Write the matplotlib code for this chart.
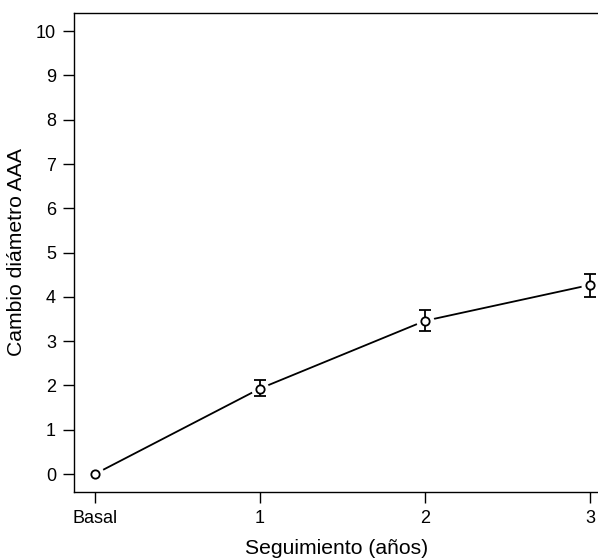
import matplotlib
matplotlib.use("Agg")
import matplotlib.pyplot as plt

plt.rcParams["font.family"] = ["Liberation Sans", "DejaVu Sans"]

x_labels = ["Basal", "1", "2", "3"]
x_pos = [0, 1, 2, 3]
change = [0.0, 1.93, 3.46, 4.27]
err_lo = [0.0, 0.17, 0.23, 0.27]
err_hi = [0.0, 0.20, 0.24, 0.25]
y_ticks = list(range(0, 11))

fig = plt.figure(figsize=(5.98, 5.6), dpi=100)
ax = fig.add_axes([74 / 598, 1 - 492 / 560, (600 - 74) / 598, (492 - 13) / 560])

# line with gaps around the markers (R type="b" look)
ax.plot(x_pos, change, color="black", lw=1.3, zorder=1)
ax.plot(x_pos, change, ls="none", marker="o", ms=13, mfc="white", mec="none", zorder=2)
ax.errorbar(x_pos[1:], change[1:], yerr=[err_lo[1:], err_hi[1:]], fmt="none",
            ecolor="black", elinewidth=1.3, capsize=4.5, capthick=1.3, zorder=3)
ax.plot(x_pos, change, ls="none", marker="o", ms=6, mfc="white", mec="black", mew=1.3, zorder=4)

ax.set_xlim(-0.127, 3.06)
ax.set_ylim(-0.406, 10.41)
ax.set_xticks(x_pos)
ax.set_xticklabels(x_labels)
ax.set_yticks(y_ticks)
ax.tick_params(axis="both", direction="out", length=8, width=1, labelsize=13, pad=5)
ax.spines["right"].set_visible(False)
for s in ["left", "bottom", "top"]:
    ax.spines[s].set_linewidth(1)

ax.set_xlabel("Seguimiento (años)", fontsize=15.2, labelpad=8.5)
ax.set_ylabel("Cambio diámetro AAA", fontsize=15.2, labelpad=7)

fig.savefig("out.png", dpi=100)
